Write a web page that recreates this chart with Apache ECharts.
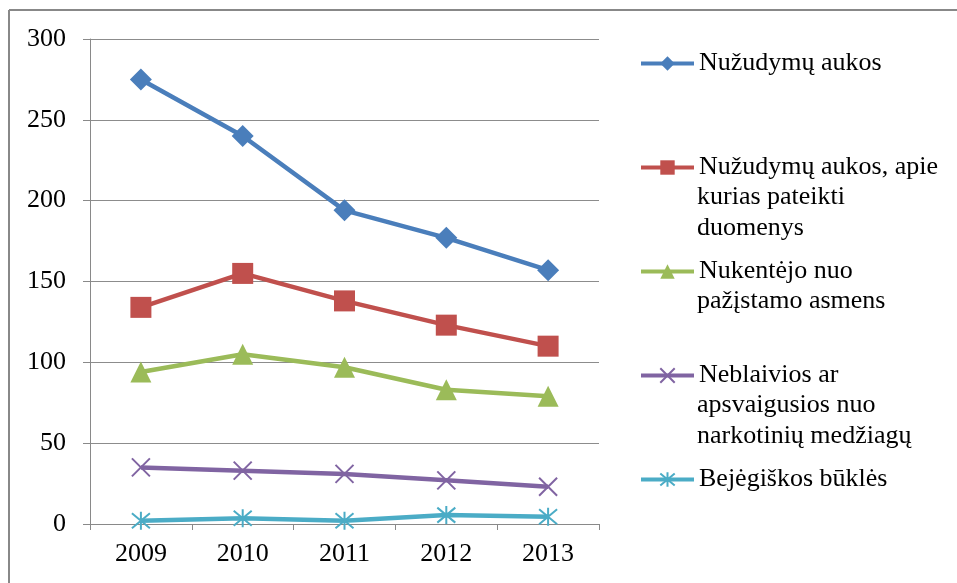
<!DOCTYPE html>
<html>
<head>
<meta charset="utf-8">
<script src="https://cdn.jsdelivr.net/npm/echarts@6/dist/echarts.min.js"></script>
<style>
    html, body { margin: 0; padding: 0; background: #fff; }
    #chart { width: 957px; height: 583px; }
</style>
</head>
<body>
<div id="chart"></div>
<script>
var years = ['2009', '2010', '2011', '2012', '2013'];
var yTicks = [0, 50, 100, 150, 200, 250, 300];

var nuzudymuAukos = [275, 240, 194, 177, 157];
var duomenysPateikti = [134, 155, 138, 123, 110];
var pazistamoAsmens = [94, 105, 97, 83, 79];
var neblaivios = [35, 33, 31, 27, 23];
var bejegiskos = [2, 3.5, 2, 5.5, 4.5];

var seriesNames = [
    'Nužudymų aukos',
    'Nužudymų aukos, apie kurias pateikti duomenys',
    'Nukentėjo nuo pažįstamo asmens',
    'Neblaivios ar apsvaigusios nuo narkotinių medžiagų',
    'Bejėgiškos būklės'
];
// legend lines as they wrap in the picture
var legendLines = [
    ['Nužudymų aukos'],
    ['Nužudymų aukos, apie', 'kurias pateikti', 'duomenys'],
    ['Nukentėjo nuo', 'pažįstamo asmens'],
    ['Neblaivios ar', 'apsvaigusios nuo', 'narkotinių medžiagų'],
    ['Bejėgiškos būklės']
];

var Chart = function () {

    var font = 'Liberation Serif';
    var crossPath = 'path://M0,0L10,10M10,0L0,10';
    var starPath = 'path://M0,0L10,10M10,0L0,10M5,-1L5,11';

    var makeSeries = function (name, data, color, symbol, size, stroked) {
        var s = {
            name: name,
            type: 'line',
            data: data,
            symbol: symbol,
            symbolSize: size,
            lineStyle: { color: color, width: 4.5 },
            itemStyle: { color: color }
        };
        if (stroked) {
            s.itemStyle = { color: color, borderColor: color, borderWidth: 2 };
        }
        return s;
    };

    // continuation lines of the wrapped legend labels
    var buildLegendText = function () {
        var texts = [];
        var startY = 64;
        var step = 104;
        var lineH = 31;
        for (var i = 0; i < legendLines.length; i++) {
            for (var j = 1; j < legendLines[i].length; j++) {
                texts.push({
                    type: 'text',
                    left: 697,
                    top: startY + i * step + j * lineH - 15,
                    style: {
                        text: legendLines[i][j],
                        font: '26px "' + font + '"',
                        fill: '#000'
                    }
                });
            }
        }
        return texts;
    };

    var init = function () {
        var graphics = [
            { type: 'line', shape: { x1: 9, y1: 10, x2: 9, y2: 583 }, style: { stroke: '#888', lineWidth: 2 } },
            { type: 'line', shape: { x1: 9, y1: 10, x2: 957, y2: 10 }, style: { stroke: '#888', lineWidth: 2 } }
        ].concat(buildLegendText());

        var options = {
            animation: false,
            backgroundColor: '#fff',
            textStyle: { fontFamily: font },
            grid: {
                left: 90,
                right: 358,
                top: 39,
                bottom: 59
            },
            legend: {
                orient: 'vertical',
                left: 639,
                top: 48,
                padding: 0,
                itemGap: 73,
                itemWidth: 53,
                itemHeight: 18,
                selectedMode: false,
                data: seriesNames,
                lineStyle: { width: 4 },
                formatter: function (name) {
                    var idx = seriesNames.indexOf(name);
                    return legendLines[idx][0];
                },
                textStyle: {
                    fontFamily: font,
                    fontSize: 26,
                    lineHeight: 31,
                    color: '#000'
                }
            },
            xAxis: {
                type: 'category',
                data: years,
                boundaryGap: true,
                axisLine: { lineStyle: { color: '#898989', width: 1 } },
                axisTick: { show: true, length: 6, lineStyle: { color: '#898989' } },
                axisLabel: { color: '#000', fontSize: 26, margin: 17, fontFamily: font }
            },
            yAxis: {
                type: 'value',
                min: yTicks[0],
                max: yTicks[yTicks.length - 1],
                interval: 50,
                axisLine: { show: true, lineStyle: { color: '#898989', width: 1 } },
                axisTick: { show: true, length: 7, lineStyle: { color: '#898989' } },
                axisLabel: { color: '#000', fontSize: 26, margin: 24, fontFamily: font },
                splitLine: { lineStyle: { color: '#8c8c8c', width: 1 } }
            },
            graphic: graphics,
            series: [
                makeSeries(seriesNames[0], nuzudymuAukos, '#4a7ebb', 'diamond', 22, false),
                makeSeries(seriesNames[1], duomenysPateikti, '#c0504d', 'rect', 21, false),
                makeSeries(seriesNames[2], pazistamoAsmens, '#9bbb59', 'triangle', 21, false),
                makeSeries(seriesNames[3], neblaivios, '#8064a2', crossPath, 18, true),
                makeSeries(seriesNames[4], bejegiskos, '#4bacc6', starPath, 18, true)
            ]
        };
        var chart = echarts.init(document.getElementById('chart'));
        chart.setOption(options);
    };

    return {
        init: init
    };
}();

Chart.init();
</script>
</body>
</html>
